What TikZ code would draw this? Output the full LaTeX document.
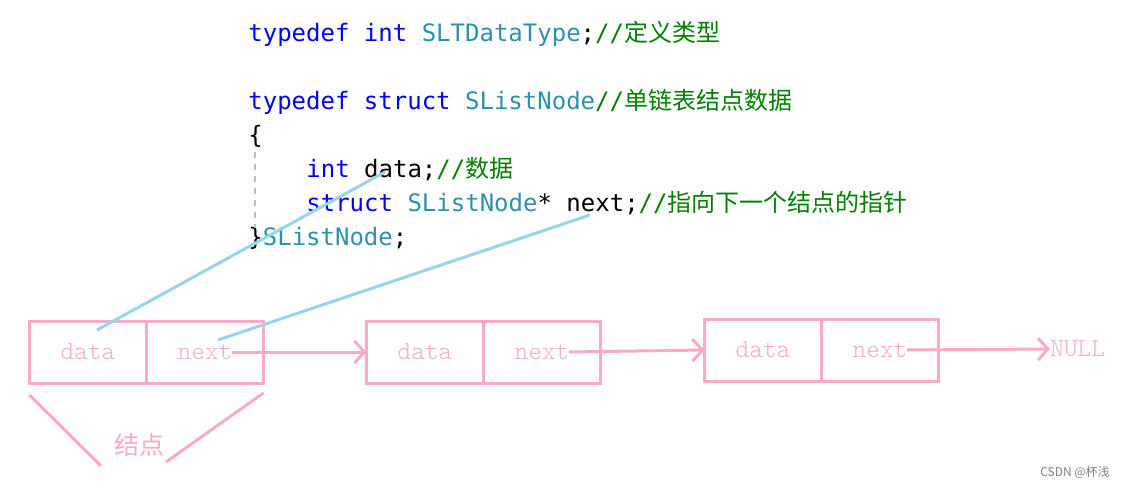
\documentclass[tikz,border=0pt]{standalone}
\usepackage{fontspec}
\usetikzlibrary{arrows.meta,positioning}
\setmonofont{DejaVu Sans Mono}
\newfontfamily\cjk{Noto Sans CJK SC}
\newfontfamily\boxfont{lmmonolt10-regular.otf}
\definecolor{kwblue}{RGB}{0,0,255}
\definecolor{tyteal}{RGB}{43,145,175}
\definecolor{cmgreen}{RGB}{0,128,0}
\definecolor{lpink}{RGB}{250,170,200}
\definecolor{lblue}{RGB}{150,215,230}
\newcommand\kwd[1]{\textcolor{kwblue}{#1}}
\newcommand\typ[1]{\textcolor{tyteal}{#1}}
\newcommand\cmt[1]{\textcolor{cmgreen}{//{\cjk #1}}}

\begin{document}
\begin{tikzpicture}[x=0.5pt,y=-0.5pt,
  >={Straight Barb[length=5pt,width=11pt]},
  code/.style={anchor=base west, inner sep=0pt, font=\ttfamily\fontsize{12}{14}\selectfont},
  cell/.style={draw=lpink, line width=1.5pt, outer sep=0pt, minimum width=58.5pt,
               minimum height=31pt, inner sep=0pt, text=lpink,
               font=\boxfont\fontsize{13}{15}\selectfont},
  link/.style={->, draw=lpink, line width=1.5pt},
  ptr/.style={draw=lblue, line width=1.5pt}]
\useasboundingbox (0,0) rectangle (1124,487);

% code
\node[code] (l1) at (248,41) {\kwd{typedef} \kwd{int} \typ{SLTDataType};\cmt{定义类型}};
\node[code] (l2) at (248,109) {\kwd{typedef} \kwd{struct} \typ{SListNode}\cmt{单链表结点数据}};
\node[code] (l3) at (248,143) {\{};
\node[code] (l4) at (306,177) {\kwd{int} data;\cmt{数据}};
\node[code] (l5) at (306,211) {\kwd{struct} \typ{SListNode}* next;\cmt{指向下一个结点的指针}};
\node[code] (l6) at (248,245) {\}\typ{SListNode};};
\draw[gray!50, dashed, line width=0.6pt] (255,152) -- (255,228);

% list
\node[cell] (d1) at (88,352) {data};
\node[cell, right=0pt of d1] (n1) {next};
\node[cell] (d2) at (425,352) {data};
\node[cell, right=0pt of d2] (n2) {next};
\node[cell] (d3) at (763,350) {data};
\node[cell, right=0pt of d3] (n3) {next};
\node[anchor=west, inner sep=0pt, text=lpink, font=\boxfont\fontsize{13}{15}\selectfont]
  (nul) at (1050,349) {NULL};
\draw[link] ([xshift=13.5pt]n1.center) -- (d2.west);
\draw[link] ([xshift=13.5pt]n2.center) -- (d3.west);
\draw[link] ([xshift=13.5pt]n3.center) -- (nul.west);

% pointers to code
\coordinate (cd) at (385,172);
\coordinate (cn) at (590,215);
\draw[ptr] ([shift={(9,-22)}]d1.center) -- (cd);
\draw[ptr] ([shift={(13,-12)}]n1.center) -- (cn);

% node label
\node[text=lpink, font=\cjk\fontsize{12.5}{14}\selectfont] (lbl) at (139,445) {结点};
\draw[draw=lpink, line width=1.5pt] ([yshift=-6pt]d1.south west) -- ([shift={(-38,21)}]lbl.center);
\draw[draw=lpink, line width=1.5pt] ([yshift=-5pt]n1.south east) -- ([shift={(27,17)}]lbl.center);

\node[text=gray, font=\cjk\fontsize{6}{7}\selectfont] (wm) at (1075,472) {CSDN @杯浅};
\end{tikzpicture}
\end{document}
